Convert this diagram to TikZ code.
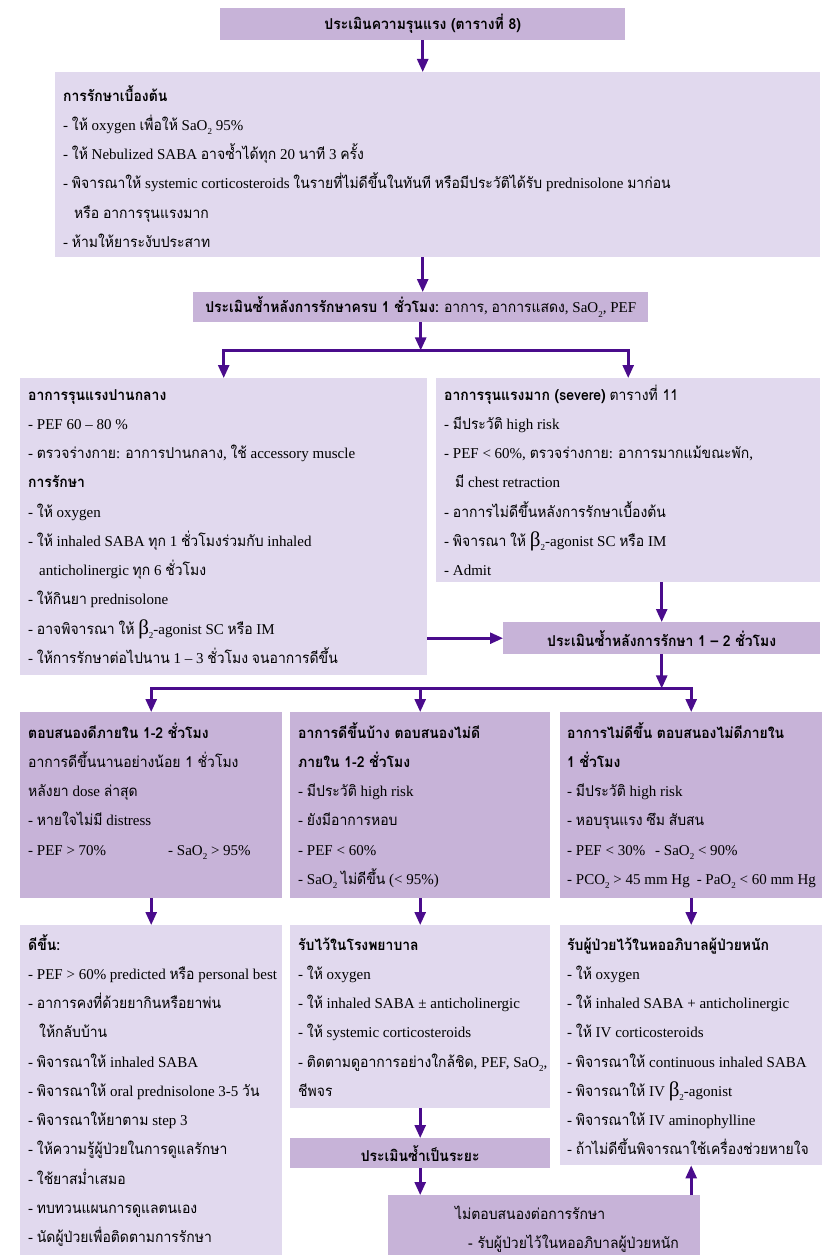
\documentclass[tikz,border=0pt]{standalone}
\usepackage{fontspec}
\usetikzlibrary{arrows.meta}
\setmainfont{Liberation Serif}
\newfontfamily\thaifont[Script=Thai, FakeStretch=0.93]{Loma}

\definecolor{boxdark}{HTML}{C7B3D8}
\definecolor{boxlight}{HTML}{E1D9EE}
\definecolor{flow}{HTML}{4A0C8C}

% Thai letters are set in Loma, Latin text in the serif main font
\XeTeXinterchartokenstate=1
\chardef\thaiclass=7
\count255="0E00
\loop\ifnum\count255<"0E80
  \XeTeXcharclass\count255=\thaiclass
  \advance\count255 by 1
\repeat
\XeTeXinterchartoks 0 \thaiclass={\thaifont}
\XeTeXinterchartoks 4095 \thaiclass={\thaifont}
\XeTeXinterchartoks \thaiclass 0={\rmfamily}
\XeTeXinterchartoks \thaiclass 4095={\rmfamily}

% headings: everything in Loma
\newcommand\thbold{\XeTeXinterchartokenstate=0 \thaifont\bfseries}
\newcommand\thsans{\XeTeXinterchartokenstate=0 \thaifont}
\newcommand\subtwo{\raisebox{-4.5pt}{\fontsize{9}{9}\selectfont 2}}
\newcommand\bigbeta{{\fontsize{21}{21}\selectfont β}}
\newcommand\cont{\hspace*{11pt}}
\newcommand\textlines[1]{\parbox[t]{800pt}{\fontsize{15}{29.25}\selectfont\lineskiplimit=-40pt\raggedright #1}}

\tikzset{
  darkbox/.style={rectangle, fill=boxdark, inner sep=0pt, anchor=north west,
    font=\fontsize{15}{18}\selectfont},
  lightbox/.style={rectangle, fill=boxlight, inner sep=0pt, anchor=north west},
  body/.style={inner sep=0pt, anchor=base west},
  arr/.style={draw=flow, line width=2.6pt, -{Triangle[length=13pt,width=11pt]}},
}

\begin{document}
\begin{tikzpicture}[x=1pt, y=-1pt]
\fill[white] (0,0) rectangle (827,1255);
\useasboundingbox (0,0) rectangle (827,1255);

% ---- boxes ----
\node[darkbox, minimum width=405pt, minimum height=32pt] (title) at (220,8)
  {\thbold ประเมินความรุนแรง (ตารางที่ 8)};
\node[lightbox, minimum width=765pt, minimum height=185pt] (b2) at (55,72) {};
\node[darkbox, minimum width=455pt, minimum height=30pt] (b3) at (193,292)
  {{\thbold ประเมินซ้ำหลังการรักษาครบ 1 ชั่วโมง:} อาการ, อาการแสดง, SaO\subtwo, PEF};
\node[lightbox, minimum width=407pt, minimum height=297pt] (b4) at (20,378) {};
\node[lightbox, minimum width=384pt, minimum height=204pt] (b5) at (436,378) {};
\node[darkbox, minimum width=317pt, minimum height=32pt] (b6) at (503,622)
  {\thbold ประเมินซ้ำหลังการรักษา 1 – 2 ชั่วโมง};
\node[darkbox, minimum width=262pt, minimum height=186pt] (bA) at (20,712) {};
\node[darkbox, minimum width=260pt, minimum height=186pt] (bB) at (290,712) {};
\node[darkbox, minimum width=262pt, minimum height=186pt] (bC) at (560,712) {};
\node[lightbox, minimum width=262pt, minimum height=330pt] (bD) at (20,925) {};
\node[lightbox, minimum width=260pt, minimum height=183pt] (bE) at (290,925) {};
\node[lightbox, minimum width=262pt, minimum height=240pt] (bF) at (560,925) {};
\node[darkbox, minimum width=260pt, minimum height=30pt] (bG) at (290,1138)
  {\thbold ประเมินซ้ำเป็นระยะ};
\node[darkbox, minimum width=312pt, minimum height=60pt] (bH) at (388,1195) {};

% ---- texts ----
\node[body] (t2) at (63,101) {\textlines{%
  {\thbold การรักษาเบื้องต้น}\\
  - ให้ oxygen เพื่อให้ SaO\subtwo{} 95\%\\
  - ให้ Nebulized SABA อาจซ้ำได้ทุก 20 นาที 3 ครั้ง\\
  - พิจารณาให้ systemic corticosteroids ในรายที่ไม่ดีขึ้นในทันที หรือมีประวัติได้รับ prednisolone มาก่อน\\
  \cont หรือ อาการรุนแรงมาก\\
  - ห้ามให้ยาระงับประสาท}};

\node[body] (t4) at (28,400) {\textlines{%
  {\thbold อาการรุนแรงปานกลาง}\\
  - PEF 60 – 80 \%\\
  - ตรวจร่างกาย: อาการปานกลาง, ใช้ accessory muscle\\
  {\thbold การรักษา}\\
  - ให้ oxygen\\
  - ให้ inhaled SABA ทุก 1 ชั่วโมงร่วมกับ inhaled\\
  \cont anticholinergic ทุก 6 ชั่วโมง\\
  - ให้กินยา prednisolone\\
  - อาจพิจารณา ให้ \bigbeta\subtwo-agonist SC หรือ IM\\
  - ให้การรักษาต่อไปนาน 1 – 3 ชั่วโมง จนอาการดีขึ้น}};

\node[body] (t5) at (444,400) {\textlines{%
  {\thbold อาการรุนแรงมาก (severe)} {\thsans ตารางที่ 11}\\
  - มีประวัติ high risk\\
  - PEF < 60\%, ตรวจร่างกาย: อาการมากแม้ขณะพัก,\\
  \cont มี chest retraction\\
  - อาการไม่ดีขึ้นหลังการรักษาเบื้องต้น\\
  - พิจารณา ให้ \bigbeta\subtwo-agonist SC หรือ IM\\
  - Admit}};

\node[body] (tA) at (28,738) {\textlines{%
  {\thbold ตอบสนองดีภายใน 1-2 ชั่วโมง}\\
  {\thsans อาการดีขึ้นนานอย่างน้อย 1 ชั่วโมง}\\
  หลังยา dose ล่าสุด\\
  - หายใจไม่มี distress\\
  \makebox[140pt][l]{- PEF > 70\%}- SaO\subtwo{} > 95\%}};

\node[body] (tB) at (298,738) {\textlines{%
  {\thbold อาการดีขึ้นบ้าง ตอบสนองไม่ดี}\\
  {\thbold ภายใน 1-2 ชั่วโมง}\\
  - มีประวัติ high risk\\
  - ยังมีอาการหอบ\\
  - PEF < 60\%\\
  - SaO\subtwo{} ไม่ดีขึ้น (< 95\%)}};

\node[body] (tC) at (567,738) {\textlines{%
  {\thbold อาการไม่ดีขึ้น ตอบสนองไม่ดีภายใน}\\
  {\thbold 1 ชั่วโมง}\\
  - มีประวัติ high risk\\
  - หอบรุนแรง ซึม สับสน\\
  \makebox[88pt][l]{- PEF < 30\%}- SaO\subtwo{} < 90\%\\
  - PCO\subtwo{} > 45 mm Hg\hspace{7pt}- PaO\subtwo{} < 60 mm Hg}};

\node[body] (tD) at (28,950) {\textlines{%
  {\thbold ดีขึ้น:}\\
  - PEF > 60\% predicted หรือ personal best\\
  - อาการคงที่ด้วยยากินหรือยาพ่น\\
  \cont ให้กลับบ้าน\\
  - พิจารณาให้ inhaled SABA\\
  - พิจารณาให้ oral prednisolone 3-5 วัน\\
  - พิจารณาให้ยาตาม step 3\\
  - ให้ความรู้ผู้ป่วยในการดูแลรักษา\\
  - ใช้ยาสม่ำเสมอ\\
  - ทบทวนแผนการดูแลตนเอง\\
  - นัดผู้ป่วยเพื่อติดตามการรักษา}};

\node[body] (tE) at (298,950) {\textlines{%
  {\thbold รับไว้ในโรงพยาบาล}\\
  - ให้ oxygen\\
  - ให้ inhaled SABA ± anticholinergic\\
  - ให้ systemic corticosteroids\\
  - ติดตามดูอาการอย่างใกล้ชิด, PEF, SaO\subtwo,\\
  ชีพจร}};

\node[body] (tF) at (567,950) {\textlines{%
  {\thbold รับผู้ป่วยไว้ในหออภิบาลผู้ป่วยหนัก}\\
  - ให้ oxygen\\
  - ให้ inhaled SABA + anticholinergic\\
  - ให้ IV corticosteroids\\
  - พิจารณาให้ continuous inhaled SABA\\
  - พิจารณาให้ IV \bigbeta\subtwo-agonist\\
  - พิจารณาให้ IV aminophylline\\
  - ถ้าไม่ดีขึ้นพิจารณาใช้เครื่องช่วยหายใจ}};

\node[body] (tH1) at (455,1219) {\fontsize{15}{18}\selectfont\thsans ไม่ตอบสนองต่อการรักษา};
\node[body] (tH2) at (468,1248) {\fontsize{15}{18}\selectfont\thsans - รับผู้ป่วยไว้ในหออภิบาลผู้ป่วยหนัก};

% ---- connectors ----
\path (b3.south) ++(0,28) coordinate (j1);
\path (b6.south) ++(0,34) coordinate (j2);

\draw[arr] (title.south) -- (title.south |- b2.north);
\draw[arr] (title.south |- b2.south) -- (title.south |- b3.north);
\draw[arr] (b3.south) -- (j1);
\draw[arr] (j1) -| (b4.north);
\draw[arr] (j1) -| (b5.north);
\draw[arr] (b6.north |- b5.south) -- (b6.north);
\draw[arr] (b6.west -| b4.east) -- (b6.west);
\draw[arr] (b6.south) -- (j2);
\draw[arr] (j2) -| (bA.north);
\draw[arr] (j2) -| (bC.north);
\draw[arr] (bB.north |- j2) -- (bB.north);
\draw[arr] (bA.south) -- (bD.north);
\draw[arr] (bB.south) -- (bE.north);
\draw[arr] (bC.south) -- (bF.north);
\draw[arr] (bE.south) -- (bG.north);
\draw[arr] (bG.south) -- (bG.south |- bH.north);
\draw[arr] (bF.south |- bH.north) -- (bF.south);
\end{tikzpicture}
\end{document}
